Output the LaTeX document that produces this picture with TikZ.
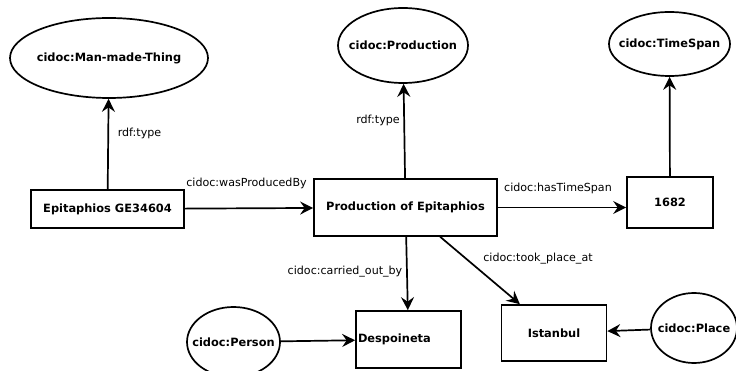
\documentclass[tikz,border=0pt]{standalone}
\usepackage{fontspec}
\setmainfont{DejaVu Sans}
\usetikzlibrary{shapes.geometric,arrows.meta}
\tikzset{
    class-ellipse/.style = {draw, ellipse, line width=1.7pt, inner sep=0pt, font=\fontsize{11.4}{13}\selectfont\bfseries},
    instance-box/.style = {draw, rectangle, line width=1.7pt, inner sep=0pt, font=\fontsize{11.4}{13}\selectfont\bfseries},
    prop-label/.style = {inner sep=0pt, font=\fontsize{11.1}{13}\selectfont},
    prop-arrow/.style = {line width=1.7pt, -{Stealth[length=13pt,width=13pt,inset=4.5pt]}},
}
\newcommand{\classtext}[1]{\makebox[0pt]{#1}}

\begin{document}
\begin{tikzpicture}[x=1pt,y=-1pt]
\useasboundingbox (0,0) rectangle (736,371);
\node[class-ellipse, minimum width=198pt, minimum height=80pt] (man-made-thing) at (109,58) {\classtext{cidoc:Man-made-Thing}};
\node[class-ellipse, minimum width=130pt, minimum height=75pt] (production-class) at (403,45.5) {\classtext{cidoc:Production}};
\node[class-ellipse, minimum width=121pt, minimum height=64pt] (timespan-class) at (669.5,44) {\classtext{cidoc:TimeSpan}};
\node[class-ellipse, minimum width=93pt, minimum height=70pt] (person-class) at (233.5,342) {\classtext{cidoc:Person}};
\node[class-ellipse, minimum width=86pt, minimum height=70pt] (place-class) at (694,328) {\classtext{cidoc:Place}};

\node[instance-box, minimum width=153pt, minimum height=38pt] (epitaphios) at (107.5,209) {Epitaphios GE34604};
\node[instance-box, minimum width=183pt, minimum height=57pt] (production) at (405.5,207.5) {Production of Epitaphios};
\node[instance-box, minimum width=86pt, minimum height=51pt] (year) at (670,202.5) {1682};
\node[instance-box, minimum width=105pt, minimum height=57pt, text width=101pt, align=left] (despoineta) at (408.5,339.5) {Despoineta};
\node[instance-box, minimum width=105pt, minimum height=56pt] (istanbul) at (554,333) {Istanbul};

\draw[prop-arrow] (epitaphios) -- (man-made-thing);
\draw[prop-arrow] (epitaphios) -- (production);
\draw[prop-arrow] (production) -- (production-class);
\draw[prop-arrow] (production.east) -- (year.west |- production.east);
\draw[prop-arrow] (year) -- (timespan-class);
\draw[prop-arrow] (production) -- (despoineta);
\draw[prop-arrow] (production) -- (istanbul);
\draw[prop-arrow] (person-class) -- (despoineta);
\draw[prop-arrow] (place-class) -- (istanbul);

\node[prop-label] (type-a) at (139.5,133) {rdf:type};
\node[prop-label] (produced-by) at (246.5,183) {cidoc:wasProducedBy};
\node[prop-label] (type-b) at (378,120) {rdf:type};
\node[prop-label] (has-timespan) at (558,188) {cidoc:hasTimeSpan};
\node[prop-label] (carried-out-by) at (345,272) {cidoc:carried\_out\_by};
\node[prop-label] (took-place-at) at (538,259) {cidoc:took\_place\_at};
\end{tikzpicture}
\end{document}
